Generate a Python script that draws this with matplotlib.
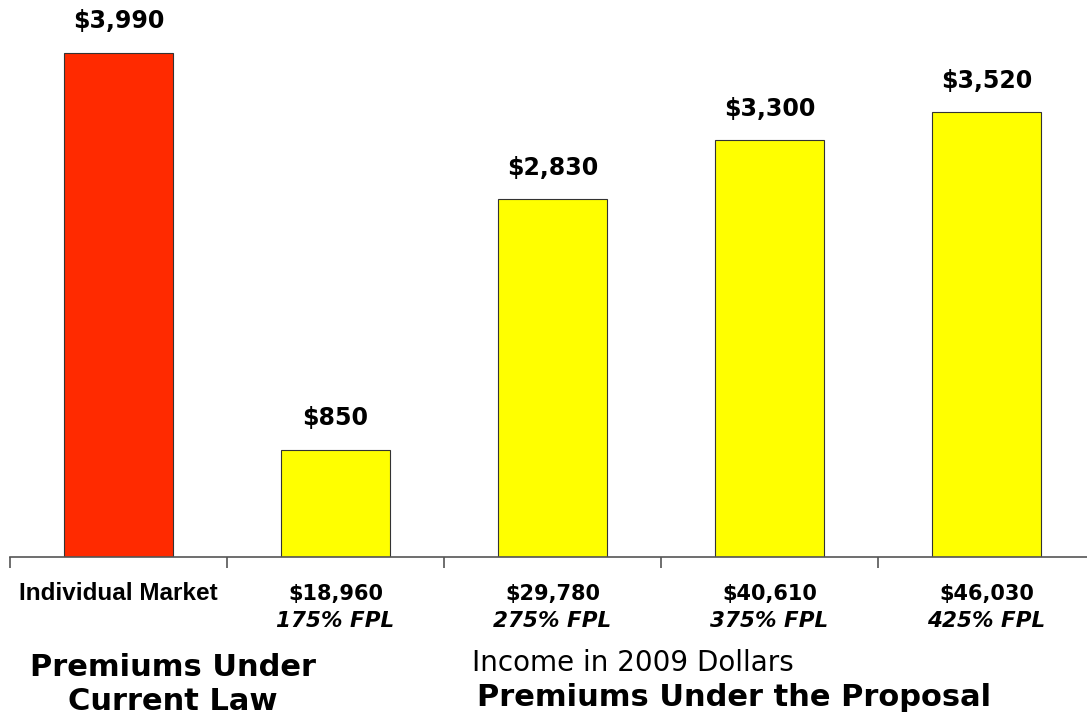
import matplotlib
matplotlib.use("Agg")
import matplotlib.pyplot as plt
import numpy as np

# chart data
categories = ["Individual Market", "$18,960", "$29,780", "$40,610", "$46,030"]
fpl_labels = ["", "175% FPL", "275% FPL", "375% FPL", "425% FPL"]
premiums = [3990, 850, 2830, 3300, 3520]
bar_colors = ["#FF2A00", "#FFFF00", "#FFFF00", "#FFFF00", "#FFFF00"]

plt.rcParams["font.family"] = ["DejaVu Sans"]

fig = plt.figure(figsize=(10.87, 7.15), dpi=100)
ax = fig.add_axes([0.0092, 0.221, 0.9982, 0.7776])

x = np.arange(len(categories))
ax.bar(x, premiums, width=0.5, color=bar_colors, edgecolor="#333333", linewidth=0.8)

for xi, v in zip(x, premiums):
    ax.annotate("${:,}".format(v), (xi, v), xytext=(0, 14), textcoords="offset points",
                ha="center", va="bottom", fontsize=17, fontweight="bold")

ax.set_xlim(-0.5, 4.5)
ax.set_ylim(0, 4400)
ax.set_yticks([])
for s in ["left", "right", "top"]:
    ax.spines[s].set_visible(False)
ax.spines["bottom"].set_color("#555555")
ax.spines["bottom"].set_linewidth(1.2)

# boundary ticks between categories
ax.set_xticks(np.arange(-0.5, 5.0, 1.0), minor=True)
ax.tick_params(axis="x", which="minor", length=8, width=1.2, color="#555555", direction="out")
ax.set_xticks(x)
ax.set_xticklabels([])
ax.tick_params(axis="x", which="major", length=0)

trans = ax.get_xaxis_transform()
for xi, lab, fpl in zip(x, categories, fpl_labels):
    if fpl:
        ax.text(xi, -0.0665, lab, transform=trans, ha="center", va="center",
                fontsize=15, fontweight="bold")
        ax.text(xi, -0.115, fpl, transform=trans, ha="center", va="center",
                fontsize=15.5, fontweight="bold", fontstyle="italic")
    else:
        ax.text(xi, -0.0665, lab, transform=trans, ha="center", va="center",
                fontsize=17.5, fontweight="bold", family="Liberation Sans")

fig.text(173 / 1087, 1 - 668 / 715, "Premiums Under", ha="center", va="center",
         fontsize=22, fontweight="bold")
fig.text(173 / 1087, 1 - 702 / 715, "Current Law", ha="center", va="center",
         fontsize=22, fontweight="bold")
fig.text(633 / 1087, 1 - 663 / 715, "Income in 2009 Dollars", ha="center", va="center",
         fontsize=20)
fig.text(734 / 1087, 1 - 697 / 715, "Premiums Under the Proposal", ha="center", va="center",
         fontsize=22, fontweight="bold")

fig.savefig("out.png", dpi=100)
